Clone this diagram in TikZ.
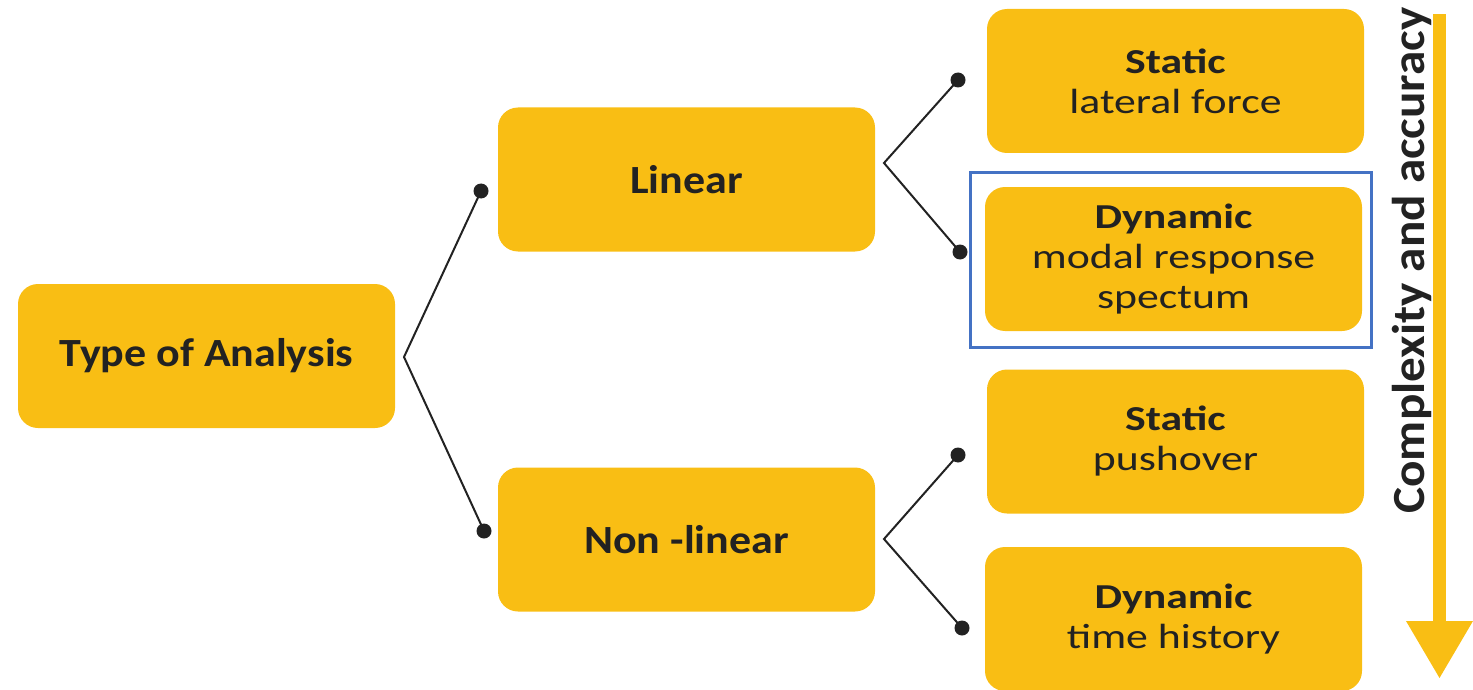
\documentclass[tikz,border=0pt]{standalone}
\usepackage{fontspec}
\setmainfont{Carlito}
\newfontfamily\leftfont[FakeStretch=1.1]{Carlito}
\newfontfamily\rightfont[FakeStretch=1.25]{Carlito}
\newfontfamily\labelfont[FakeStretch=1.07]{Carlito}
\definecolor{yel}{HTML}{F9BE14}
\definecolor{ink}{HTML}{222222}
\definecolor{frameblue}{HTML}{4472C4}
\tikzset{
  box/.style={fill=yel, rounded corners=20pt, minimum width=377pt, minimum height=144pt, inner sep=0pt, align=center, text=ink},
  bigtxt/.style={font=\leftfont\fontsize{40}{48}\selectfont\bfseries},
  smalltxt/.style={font=\rightfont\fontsize{35}{40}\selectfont},
  conn/.style={draw=ink, line width=2pt},
  dot/.style={circle, fill=ink, inner sep=0pt, minimum size=15pt}
}
\begin{document}
\begin{tikzpicture}[x=1pt,y=-1pt]
\useasboundingbox (0,0) rectangle (1473,690);
% boxes
\node[box,bigtxt] (toa) at (206.5,356) {Type of Analysis};
\node[box,bigtxt] (lin) at (686.5,179.5) {Linear};
\node[box,bigtxt] (nl) at (686.5,539.5) {Non -linear};
\node[box,smalltxt] (s1) at (1175.5,81) {\textbf{Static}\\lateral force};
\node[box,smalltxt] (d1) at (1173.5,259) {\textbf{Dynamic}\\modal response\\spectum};
\node[box,smalltxt] (s2) at (1175.5,441.5) {\textbf{Static}\\pushover};
\node[box,smalltxt] (d2) at (1173.5,619) {\textbf{Dynamic}\\time history};
% highlight frame
\node[draw=frameblue, line width=3pt, minimum width=401pt, minimum height=174pt, inner sep=0pt] (hl) at (1170.5,260) {};
% connectors
\coordinate (v0) at (404,357);
\coordinate (v1) at (884,163);
\coordinate (v2) at (884,539);
\node[dot] (p1) at (481,191) {};
\node[dot] (p2) at (484,531) {};
\node[dot] (q1) at (958,80) {};
\node[dot] (q2) at (960,252) {};
\node[dot] (r1) at (958,455) {};
\node[dot] (r2) at (962,628) {};
\draw[conn] (p1.center) -- (v0) -- (p2.center);
\draw[conn] (q1.center) -- (v1) -- (q2.center);
\draw[conn] (r1.center) -- (v2) -- (r2.center);
% complexity arrow
\coordinate (atip) at (1439.5,678);
\fill[yel] (1433,14) rectangle (1446,622);
\fill[yel] (1406,621) -- (1473,621) -- (atip) -- cycle;
\node[rotate=90, anchor=base, text=ink, font=\labelfont\fontsize{46}{52}\selectfont\bfseries, inner sep=0pt] (lbl) at (1424,260.5) {Complexity and accuracy};
\end{tikzpicture}
\end{document}
